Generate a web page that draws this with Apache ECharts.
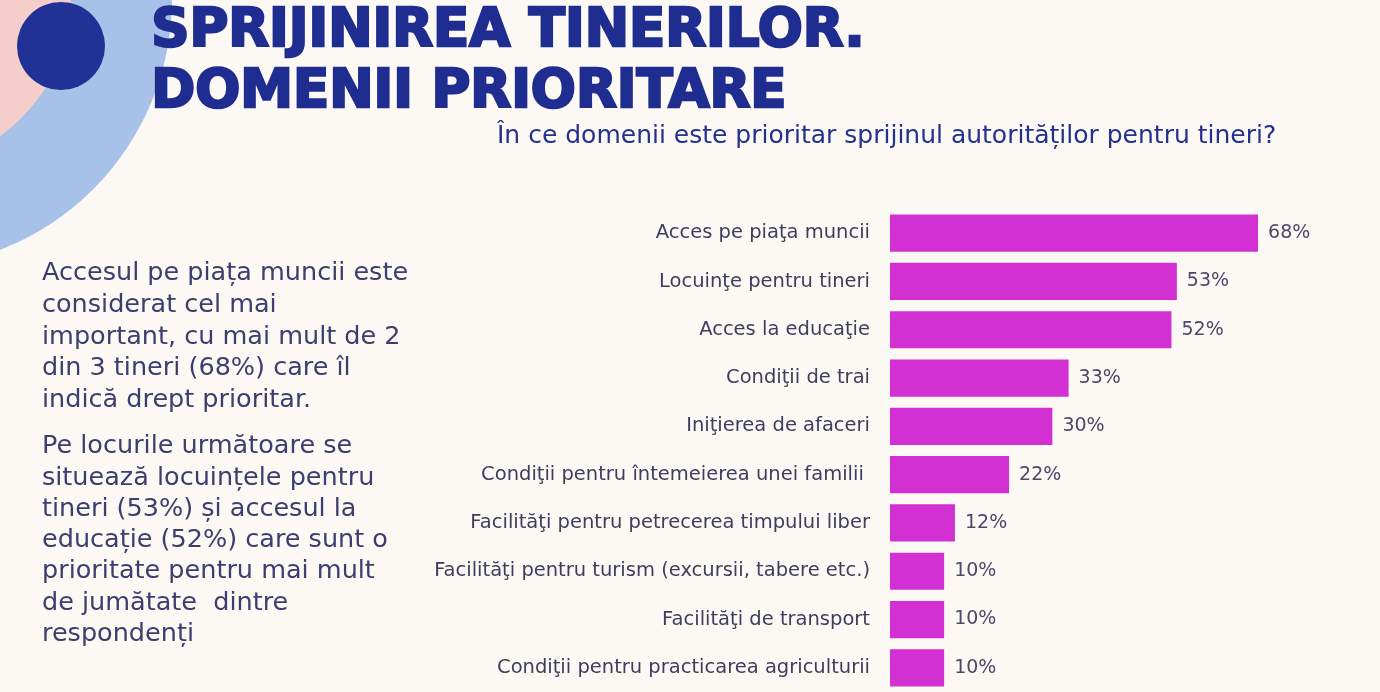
<!DOCTYPE html>
<html><head><meta charset="utf-8">
<script src="https://cdn.jsdelivr.net/npm/echarts@6/dist/echarts.min.js"></script>
<style>html,body{margin:0;padding:0;background:#fcf9f5}#c{width:1380px;height:692px}</style>
</head><body><div id="c"></div>
<script>
const categories = [
  'Acces pe piaţa muncii',
  'Locuinţe pentru tineri',
  'Acces la educaţie',
  'Condiţii de trai',
  'Iniţierea de afaceri',
  'Condiţii pentru întemeierea unei familii ',
  'Facilităţi pentru petrecerea timpului liber',
  'Facilităţi pentru turism (excursii, tabere etc.)',
  'Facilităţi de transport',
  'Condiţii pentru practicarea agriculturii'
];
const values = [68, 53, 52, 33, 30, 22, 12, 10, 10, 10];
const titleLines = ['SPRIJINIREA TINERILOR.', 'DOMENII PRIORITARE'];
const subtitle = 'În ce domenii este prioritar sprijinul autorităților pentru tineri?';
const para1 = ['Accesul pe piața muncii este', 'considerat cel mai', 'important, cu mai mult de 2', 'din 3 tineri (68%) care îl', 'indică drept prioritar.'];
const para2 = ['Pe locurile următoare se', 'situează locuințele pentru', 'tineri (53%) și accesul la', 'educație (52%) care sunt o', 'prioritate pentru mai mult', 'de jumătate  dintre', 'respondenți'];

const chart = echarts.init(document.getElementById('c'));
const font = '"DejaVu Sans", "Open Sans", sans-serif';
chart.setOption({
  backgroundColor: '#fcf9f5',
  animation: false,
  grid: { left: 890, top: 209, width: 433, height: 486, containLabel: false },
  xAxis: { type: 'value', min: 0, max: 80, show: false },
  yAxis: {
    type: 'category', data: categories, inverse: true,
    axisLine: { show: false }, axisTick: { show: false },
    axisLabel: { margin: 20, fontSize: 19.5, color: '#3d3d5e', fontFamily: font, padding: [6, 0, 0, 0] }
  },
  series: [{
    type: 'bar', data: values, barWidth: '77%',
    itemStyle: { color: '#d330d3' },
    label: { show: true, position: 'right', distance: 10, formatter: '{c}%', fontSize: 19, color: '#4a4a68', fontFamily: font, padding: [7, 0, 0, 0] }
  }],
  graphic: [
    { type: 'circle', shape: { cx: -97, cy: -1, r: 269 }, style: { fill: '#a8c1e8' }, z: -10 },
    { type: 'circle', shape: { cx: -97, cy: -1, r: 168 }, style: { fill: '#f5cdca' }, z: -9 },
    { type: 'circle', shape: { cx: 61, cy: 46, r: 44 }, style: { fill: '#213196' }, z: -8 },
    { type: 'text', left: 150, top: 2, style: { text: titleLines.join('\n'), font: 'bold 53px "DejaVu Sans", sans-serif', lineHeight: 61, fill: '#1f2c90', stroke: '#1f2c90', lineWidth: 2.5 } },
    { type: 'text', left: 497, top: 124, style: { text: subtitle, font: '25px ' + font, fill: '#25318f' } },
    { type: 'text', left: 42, top: 258, style: { text: para1.join('\n'), font: '25.5px ' + font, lineHeight: 31.6, fill: '#3b3e6e' } },
    { type: 'text', left: 42, top: 431, style: { text: para2.join('\n'), font: '25.5px ' + font, lineHeight: 31.3, fill: '#3b3e6e' } }
  ]
});
</script></body></html>
